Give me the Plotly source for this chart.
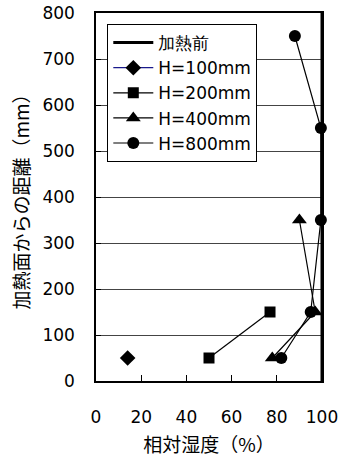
import plotly.graph_objects as go

x_tick_vals = [0, 20, 40, 60, 80, 100]
y_tick_vals = [0, 100, 200, 300, 400, 500, 600, 700, 800]

before_x = [100, 100]
before_y = [0, 800]

h100_x = [14]
h100_y = [50]

h200_x = [50, 77]
h200_y = [50, 150]

h400_x = [78, 97, 90]
h400_y = [50, 150, 350]

h800_x = [82, 95, 99.5, 99.5, 88]
h800_y = [50, 150, 350, 550, 750]

fig = go.Figure()
fig.add_trace(go.Scatter(x=before_x, y=before_y, mode="lines", name="加熱前",
                         line=dict(color="black", width=3), legendgroup="a", cliponaxis=False))
fig.add_trace(go.Scatter(x=h100_x, y=h100_y, mode="lines+markers", name="H=100mm",
                         line=dict(color="#1a1a8c", width=1.2),
                         marker=dict(symbol="diamond", size=12, color="black"), legendgroup="b", cliponaxis=False))
fig.add_trace(go.Scatter(x=h200_x, y=h200_y, mode="lines+markers", name="H=200mm",
                         line=dict(color="black", width=1.2),
                         marker=dict(symbol="square", size=11, color="black"), legendgroup="c", cliponaxis=False))
fig.add_trace(go.Scatter(x=h400_x, y=h400_y, mode="lines+markers", name="H=400mm",
                         line=dict(color="black", width=1.2),
                         marker=dict(symbol="triangle-up", size=13, color="black"), legendgroup="d", cliponaxis=False))
fig.add_trace(go.Scatter(x=h800_x, y=h800_y, mode="lines+markers", name="H=800mm",
                         line=dict(color="black", width=1.2),
                         marker=dict(symbol="circle", size=12, color="black"), legendgroup="e", cliponaxis=False))

font_fam = "DejaVu Sans, sans-serif"
jp_fam = "Noto Sans CJK JP, sans-serif"

fig.update_layout(
    width=343, height=457,
    margin=dict(l=96, r=21, t=13, b=76),
    paper_bgcolor="white", plot_bgcolor="white",
    font=dict(family=font_fam, size=17, color="black"),
    showlegend=True,
    legend=dict(x=0.05, y=0.97, xanchor="left", yanchor="top",
                bgcolor="white", bordercolor="black", borderwidth=1,
                font=dict(family=font_fam, size=17, color="black"),
                tracegroupgap=10, traceorder="normal", itemwidth=40),
    xaxis=dict(range=[0, 100], tickvals=x_tick_vals, ticks="inside", ticklen=6,
               tickcolor="black", showline=True, linecolor="black", linewidth=1.5,
               mirror=True, showgrid=False, zeroline=False, automargin=False,
               ticklabelstandoff=20,
               title=dict(text="相対湿度（%）", font=dict(family=jp_fam, size=19), standoff=14)),
    yaxis=dict(range=[0, 800], tickvals=y_tick_vals, ticks="inside", ticklen=5,
               tickcolor="black", showline=True, linecolor="black", linewidth=1.5,
               mirror=True, showgrid=True, gridcolor="#444444", gridwidth=1, zeroline=False,
               automargin=False, ticklabelstandoff=16,
               title=dict(text="加熱面からの距離（mm）", font=dict(family=jp_fam, size=19), standoff=8)),
)

fig.write_html("out.html")
